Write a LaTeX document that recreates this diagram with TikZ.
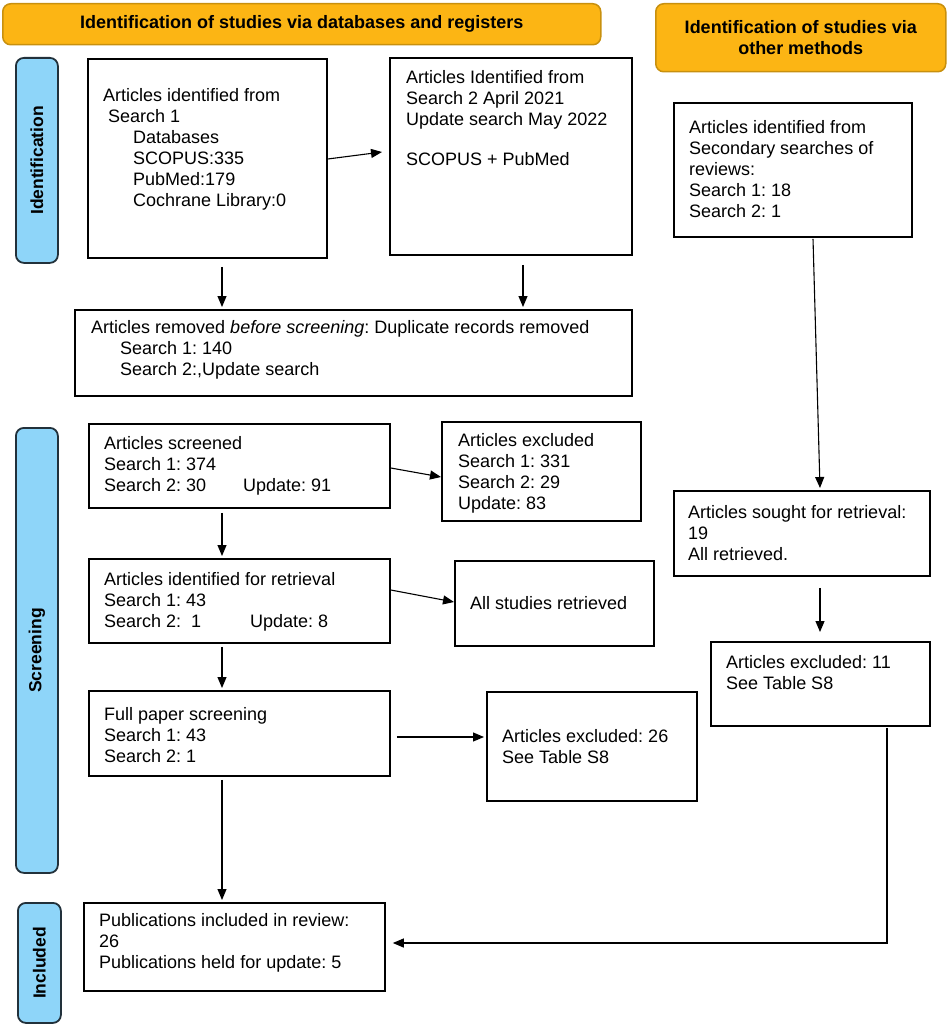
\documentclass[tikz,border=0pt]{standalone}
\usepackage{fontspec}
\setmainfont{Liberation Sans}
\usetikzlibrary{arrows.meta,calc}
\definecolor{hdrfill}{HTML}{FCB514}
\definecolor{hdrline}{HTML}{C8900E}
\definecolor{barfill}{HTML}{8ED5F9}
\definecolor{barline}{HTML}{22313B}
\frenchspacing
\begin{document}
\begin{tikzpicture}[x=1pt,y=-1pt,
  box/.style={draw=black, line width=1.8pt, fill=white, inner sep=0pt, anchor=north west},
  txt/.style={inner sep=0pt, anchor=north west, align=left, font=\fontsize{18}{21}\selectfont},
  hdr/.style={draw=hdrline, fill=hdrfill, line width=1.5pt, rounded corners=8pt, inner sep=0pt, anchor=north west, align=center, font=\bfseries\fontsize{18}{21}\selectfont},
  bar/.style={draw=barline, fill=barfill, line width=1.8pt, rounded corners=8pt, inner sep=0pt, anchor=north west},
  barlabel/.style={rotate=90, inner sep=0pt, font=\bfseries\fontsize{17.5}{21}\selectfont},
  arr/.style={-{Triangle[length=11pt,width=9pt]}, line width=1.1pt},
]
\useasboundingbox (0,0) rectangle (947,1024);

% headers
\node[hdr, minimum width=598pt, minimum height=41pt] (H1) at (2,3) {Identification of studies via databases and registers};
\node[hdr, minimum width=290pt, minimum height=68pt] (H2) at (655,3) {Identification of studies via\\other methods};

% side bars
\node[bar, minimum width=42pt, minimum height=205pt] (S1) at (15,57) {};
\node[barlabel] (S1t) at (S1.center) {Identification};
\node[bar, minimum width=42pt, minimum height=445pt] (S2) at (15,427) {};
\node[barlabel] (S2t) at (S2.center) {Screening};
\node[bar, minimum width=43pt, minimum height=120pt] (S3) at (17,902) {};
\node[barlabel] (S3t) at (S3.center) {Included};

% boxes
\node[box, minimum width=239pt, minimum height=199pt] (A) at (87,58) {};
\node[txt] (At) at (103,88.5) {Articles identified from\\\hspace*{5pt}Search 1\\\hspace*{30pt}Databases\\\hspace*{30pt}SCOPUS:335\\\hspace*{30pt}PubMed:179\\\hspace*{30pt}Cochrane Library:0};

\node[box, minimum width=242pt, minimum height=197pt] (B) at (389,57) {};
\node[txt] (Bt) at (406,70.5) {Articles Identified from\\Search 2 April 2021\\Update search May 2022\\[19pt]SCOPUS + PubMed};

\node[box, minimum width=238pt, minimum height=134pt] (C) at (673,102) {};
\node[txt] (Ct) at (689,120.5) {Articles identified from\\Secondary searches of\\reviews:\\Search 1: 18\\Search 2: 1};

\node[box, minimum width=557pt, minimum height=86pt] (D) at (74,309) {};
\node[txt] (Dt) at (91,320.5) {Articles removed \textit{before screening}: Duplicate records removed\\\hspace*{29pt}Search 1: 140\\\hspace*{29pt}Search 2:,Update search};

\node[box, minimum width=301pt, minimum height=84pt] (E) at (88,423) {};
\node[txt] (Et) at (104,436.5) {Articles screened\\Search 1: 374\\\makebox[139pt][l]{Search 2: 30}Update: 91};

\node[box, minimum width=199pt, minimum height=99pt] (F) at (441,421) {};
\node[txt] (Ft) at (458,433.5) {Articles excluded\\Search 1: 331\\Search 2: 29\\Update: 83};

\node[box, minimum width=301pt, minimum height=84pt] (G) at (88,558) {};
\node[txt] (Gt) at (104,572.5) {Articles identified for retrieval\\Search 1: 43\\\makebox[146pt][l]{Search 2:\ \ 1}Update: 8};

\node[box, minimum width=199pt, minimum height=85pt] (Hb) at (454,560) {};
\node[txt] (Ht) at (470,596.5) {All studies retrieved};

\node[box, minimum width=301pt, minimum height=85pt] (I) at (88,690) {};
\node[txt] (It) at (104,707) {Full paper screening\\Search 1: 43\\Search 2: 1};

\node[box, minimum width=210pt, minimum height=109pt] (J) at (486,691) {};
\node[txt] (Jt) at (502,729) {Articles excluded: 26\\See Table S8};

\node[box, minimum width=301pt, minimum height=88pt] (K) at (83,902) {};
\node[txt] (Kt) at (99,913.5) {Publications included in review:\\26\\Publications held for update: 5};

\node[box, minimum width=256pt, minimum height=85pt] (L) at (673,490) {};
\node[txt] (Lt) at (688,505.5) {Articles sought for retrieval:\\19\\All retrieved.};

\node[box, minimum width=219pt, minimum height=84pt] (M) at (710,641) {};
\node[txt] (Mt) at (726,655.5) {Articles excluded: 11\\See Table S8};

% connectors
\draw[arr] ($(A.north east)+(0,101)$) -- ($(B.north west)+(-7,95)$);
\draw[arr] ($(A.south west)+(135,8)$) -- ($(D.north west)+(148,-2)$);
\draw[arr] ($(B.south west)+(134,9)$) -- ($(D.north west)+(449,-2)$);
\draw[arr] ($(C.south west)+(140,1)$) -- ($(L.north west)+(147,-2)$);
\draw[arr] ($(E.north east)+(0,45)$) -- ($(F.north west)+(0,56)$);
\draw[arr] ($(E.south west)+(134,4)$) -- ($(G.north west)+(134,-2)$);
\draw[arr] ($(G.north east)+(0,32)$) -- ($(Hb.north west)+(0,42)$);
\draw[arr] ($(G.south west)+(134,3)$) -- ($(I.north west)+(134,-2)$);
\draw[arr] ($(I.north east)+(6,47)$) -- ($(J.north west)+(-2,46)$);
\draw[arr] ($(I.south west)+(134,3)$) -- ($(K.north west)+(139,-2)$);
\draw[arr] ($(L.south west)+(147,11)$) -- ($(M.north west)+(110,-9)$);
\draw[arr] ($(M.south west)+(177,1)$) |- ($(K.north east)+(7,41)$);
\end{tikzpicture}
\end{document}
